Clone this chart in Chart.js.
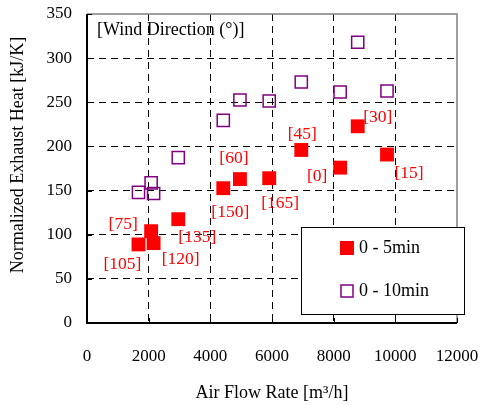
<!DOCTYPE html>
<html>
<head>
<meta charset="utf-8">
<script src="https://cdn.jsdelivr.net/npm/chart.js@4/dist/chart.umd.min.js"></script>
<style>
  html, body { margin: 0; padding: 0; background: #fff; }
  #wrap { width: 481px; height: 405px; }
</style>
</head>
<body>
<div id="wrap"><canvas id="heatChart" width="481" height="405"></canvas></div>
<script>
// Datos
const airFlow = [1670, 2080, 2160, 2960, 4420, 4960, 5910, 6950, 8210, 8780, 9730];
const heat5min = [89, 104, 90.5, 117.6, 152.7, 163, 164, 196, 176, 222.8, 190.8];
const heat10min = [148, 158.7, 146.7, 187.4, 229.6, 252.6, 251.5, 273, 261.7, 318, 262.8];
const windDirection = ['[105]', '[75]', '[120]', '[135]', '[150]', '[60]', '[165]', '[45]', '[0]', '[30]', '[15]'];
const seriesNames = ['0 - 5min', '0 - 10min'];
const xTicks = [0, 2000, 4000, 6000, 8000, 10000, 12000];
const yTicks = [0, 50, 100, 150, 200, 250, 300, 350];

// desplazamiento de cada etiqueta respecto a su punto (px)
const labelOffsets = [[-16, 20], [-28, -7], [27, 16], [19, 18], [7, 24], [-6, -21], [11, 25], [1, -16], [-23, 9], [20, -9], [22, 19]];

const FONT = '"Liberation Serif", "Times New Roman", serif';

function toPoints(ys) {
  return airFlow.map(function(x, i) { return { x: x, y: ys[i] }; });
}

const overlay = {
  id: 'overlay',
  afterDraw: function(chart) {
    const ctx = chart.ctx;
    const a = chart.chartArea;
    const xs = chart.scales.x;
    const ys = chart.scales.y;
    ctx.save();

    // marco: arriba y derecha gris, ejes negros
    ctx.strokeStyle = '#808080';
    ctx.lineWidth = 1.5;
    ctx.beginPath();
    ctx.moveTo(a.left, a.top);
    ctx.lineTo(a.right, a.top);
    ctx.lineTo(a.right, a.bottom);
    ctx.stroke();
    ctx.strokeStyle = '#000';
    ctx.lineWidth = 2;
    ctx.beginPath();
    ctx.moveTo(a.left, a.top);
    ctx.lineTo(a.left, a.bottom);
    ctx.lineTo(a.right, a.bottom);
    ctx.stroke();

    // marcas interiores
    ctx.lineWidth = 1;
    xTicks.forEach(function(v) {
      const px = Math.round(xs.getPixelForValue(v)) + 0.5;
      ctx.beginPath();
      ctx.moveTo(px, a.bottom);
      ctx.lineTo(px, a.bottom - 5);
      ctx.stroke();
    });
    yTicks.forEach(function(v) {
      const py = Math.round(ys.getPixelForValue(v)) + 0.5;
      ctx.beginPath();
      ctx.moveTo(a.left, py);
      ctx.lineTo(a.left + 5, py);
      ctx.stroke();
    });

    // etiquetas de dirección del viento
    ctx.font = '17.5px ' + FONT;
    ctx.fillStyle = '#ff0000';
    ctx.textAlign = 'center';
    ctx.textBaseline = 'middle';
    const meta = chart.getDatasetMeta(0);
    meta.data.forEach(function(pt, i) {
      ctx.fillText(windDirection[i], pt.x + labelOffsets[i][0], pt.y + labelOffsets[i][1]);
    });

    // título interior
    ctx.font = '18px ' + FONT;
    ctx.fillStyle = '#000';
    ctx.textAlign = 'left';
    ctx.fillText('[Wind Direction (\u00b0)]', a.left + 10, a.top + 16);

    // título del eje Y
    ctx.save();
    ctx.translate(18, 155);
    ctx.rotate(-Math.PI / 2);
    ctx.textAlign = 'center';
    ctx.fillText('Normalized Exhaust Heat [kJ/K]', 0, 0);
    ctx.restore();

    // leyenda
    const bx = 301, by = 227, bw = 163, bh = 87;
    ctx.fillStyle = '#fff';
    ctx.fillRect(bx, by, bw, bh);
    ctx.strokeStyle = '#000';
    ctx.lineWidth = 1;
    ctx.strokeRect(bx + 0.5, by + 0.5, bw, bh);
    chart.data.datasets.forEach(function(ds, i) {
      const cy = by + 21 + i * 43;
      if (i === 0) {
        ctx.fillStyle = ds.backgroundColor;
        ctx.fillRect(340, cy - 7, 14, 14);
      } else {
        ctx.strokeStyle = ds.borderColor;
        ctx.lineWidth = 1.5;
        ctx.strokeRect(341, cy - 6, 12, 12);
      }
      ctx.fillStyle = '#000';
      ctx.fillText(ds.label, 359, cy);
    });
    ctx.restore();
  }
};

function edgeGrid(min, max) {
  return function(c) {
    if (!c.tick) return '#000';
    return (c.tick.value === min || c.tick.value === max) ? 'rgba(0,0,0,0)' : '#000';
  };
}

function noPad(s) {
  s.paddingLeft = 0;
  s.paddingRight = 0;
  s.paddingTop = 0;
  s.paddingBottom = 0;
}

const chart = new Chart(document.getElementById('heatChart').getContext('2d'), {
  type: 'scatter',
  data: {
    datasets: [{
      label: seriesNames[0],
      data: toPoints(heat5min),
      pointStyle: 'rect',
      pointRadius: 9.8,
      backgroundColor: '#ff0000',
      borderColor: '#ff0000',
      borderWidth: 0
    }, {
      label: seriesNames[1],
      data: toPoints(heat10min),
      pointStyle: 'rect',
      pointRadius: 8.6,
      backgroundColor: 'rgba(255,255,255,0)',
      borderColor: '#800080',
      borderWidth: 1.5
    }]
  },
  options: {
    responsive: false,
    animation: false,
    layout: { padding: { top: 14, right: 24, left: 0, bottom: 0 } },
    plugins: {
      legend: { display: false },
      tooltip: { enabled: false }
    },
    scales: {
      x: {
        type: 'linear',
        min: 0,
        max: 12000,
        afterBuildTicks: function(s) { s.ticks = xTicks.map(function(v) { return { value: v }; }); },
        afterFit: function(s) { s.height = 82; noPad(s); },
        grid: { color: edgeGrid(0, 12000), lineWidth: 1, drawTicks: false },
        border: { display: false, dash: [7, 5] },
        ticks: {
          color: '#000', padding: 23, maxRotation: 0,
          font: { family: FONT, size: 17 },
          callback: function(v) { return String(v); }
        },
        title: {
          display: true,
          text: 'Air Flow Rate [m\u00b3/h]',
          color: '#000',
          font: { family: FONT, size: 18 },
          padding: { top: 0, bottom: 1 }
        }
      },
      y: {
        type: 'linear',
        min: 0,
        max: 350,
        afterBuildTicks: function(s) { s.ticks = yTicks.map(function(v) { return { value: v }; }); },
        afterFit: function(s) { s.width = 87; noPad(s); },
        grid: { color: edgeGrid(0, 350), lineWidth: 1, drawTicks: false },
        border: { display: false, dash: [7, 5] },
        ticks: {
          color: '#000', padding: 15,
          font: { family: FONT, size: 17 },
          callback: function(v) { return String(v); }
        },
        title: { display: false }
      }
    }
  },
  plugins: [overlay]
});
</script>
</body>
</html>
